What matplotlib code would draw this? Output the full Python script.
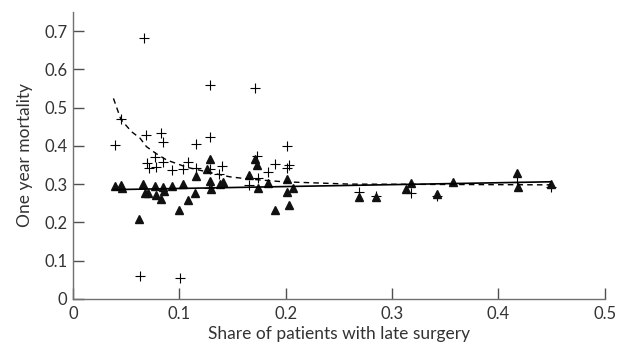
import matplotlib
matplotlib.use("Agg")
import matplotlib.pyplot as plt

# crosses (+)
cross_x = [0.0395, 0.0448, 0.0667, 0.0686, 0.0824, 0.0849, 0.1156, 0.1286, 0.1286, 0.171,
           0.063, 0.101, 0.070, 0.071, 0.077, 0.078, 0.085, 0.0927, 0.103, 0.108,
           0.116, 0.129, 0.140, 0.1375, 0.128, 0.2008, 0.1726, 0.190, 0.2033, 0.2008,
           0.183, 0.174, 0.1657, 0.269, 0.285, 0.318, 0.342, 0.4175, 0.449]
cross_y = [0.402, 0.469, 0.683, 0.428, 0.433, 0.411, 0.406, 0.422, 0.559, 0.551,
           0.061, 0.055, 0.355, 0.343, 0.370, 0.345, 0.358, 0.338, 0.339, 0.359,
           0.343, 0.340, 0.347, 0.326, 0.290, 0.400, 0.373, 0.352, 0.350, 0.342,
           0.331, 0.315, 0.298, 0.280, 0.268, 0.276, 0.270, 0.306, 0.292]

# triangles
tri_x = [0.039, 0.045, 0.046, 0.062, 0.066, 0.0677, 0.0708, 0.077, 0.0777, 0.083,
         0.085, 0.086, 0.0927, 0.0999, 0.1037, 0.108, 0.115, 0.116, 0.1256, 0.129,
         0.129, 0.130, 0.138, 0.141, 0.1657, 0.171, 0.1726, 0.174, 0.183, 0.190,
         0.2008, 0.2008, 0.2065, 0.2033, 0.269, 0.285, 0.313, 0.318, 0.342, 0.357,
         0.4175, 0.418, 0.449]
tri_y = [0.296, 0.297, 0.289, 0.208, 0.300, 0.276, 0.276, 0.295, 0.271, 0.262,
         0.292, 0.283, 0.295, 0.233, 0.301, 0.259, 0.278, 0.321, 0.339, 0.365,
         0.309, 0.286, 0.299, 0.306, 0.323, 0.365, 0.351, 0.289, 0.302, 0.233,
         0.314, 0.280, 0.291, 0.245, 0.267, 0.267, 0.287, 0.304, 0.274, 0.306,
         0.330, 0.293, 0.299]

# fitted curves
dash_x = [0.038, 0.045, 0.055, 0.063, 0.069, 0.078, 0.088, 0.107, 0.129, 0.1475,
          0.166, 0.198, 0.26, 0.35, 0.449]
dash_y = [0.524, 0.469, 0.437, 0.420, 0.398, 0.380, 0.363, 0.344, 0.330, 0.319,
          0.313, 0.306, 0.300, 0.299, 0.298]
solid_x = [0.038, 0.449]
solid_y = [0.2855, 0.306]

plt.rcParams['font.family'] = ['Lato', 'DejaVu Sans']
fig = plt.figure(figsize=(6.19, 3.52), dpi=100)
ax = fig.add_axes([0.118, 0.151, 0.859, 0.815])

ax.plot(cross_x, cross_y, linestyle='none', marker='+', color='black',
        markersize=6.5, markeredgewidth=0.8)
ax.plot(tri_x, tri_y, linestyle='none', marker='^', color='#111111',
        markersize=6)
ax.plot(dash_x, dash_y, color='black', linewidth=1.0, linestyle=(0, (4, 3)))
ax.plot(solid_x, solid_y, color='black', linewidth=1.2)

ax.set_xlim(0, 0.5)
ax.set_ylim(0, 0.75)
ax.set_xticks([0, 0.1, 0.2, 0.3, 0.4, 0.5])
ax.set_xticklabels(['0', '0.1', '0.2', '0.3', '0.4', '0.5'])
ax.set_yticks([0, 0.1, 0.2, 0.3, 0.4, 0.5, 0.6, 0.7])
ax.set_yticklabels(['0', '0.1', '0.2', '0.3', '0.4', '0.5', '0.6', '0.7'])
ax.spines['top'].set_visible(False)
ax.spines['right'].set_visible(False)
for s in ['left', 'bottom']:
    ax.spines[s].set_color('#707070')
    ax.spines[s].set_linewidth(1.0)
ax.tick_params(direction='in', length=8, width=1.0, color='#505050',
               labelsize=12, labelcolor='#333333')
ax.tick_params(axis='x', pad=5)
ax.tick_params(axis='y', pad=4)
ax.set_xlabel('Share of patients with late surgery', fontsize=12.5, color='#333333',
              labelpad=3)
ax.set_ylabel('One year mortality', fontsize=12.5, color='#333333', labelpad=8)

fig.savefig('out.png', dpi=100)
